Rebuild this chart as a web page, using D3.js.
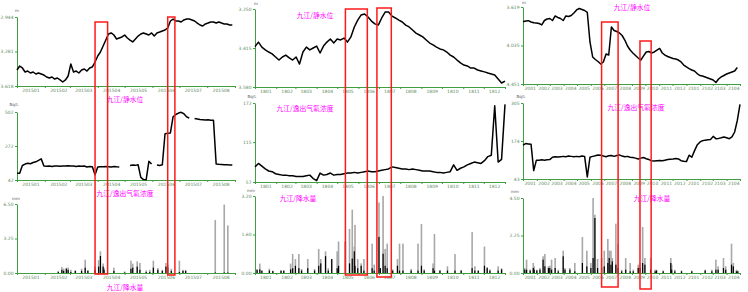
<!DOCTYPE html>
<html>
<head>
<meta charset="utf-8">
<style>
  body { margin: 0; background: #fff; }
  svg { display: block; font-family: "DejaVu Sans", sans-serif; }
  .axis path, .axis line { stroke: #3f9f3f; }
  .axis text { fill: #5c8a5c; font-size: 4.5px; font-family: "DejaVu Sans", sans-serif; }
  .title { fill: #ff00ff; font-size: 6.8px; font-family: "Noto Sans CJK SC", sans-serif; }
  .unit { fill: #555; font-size: 4px; }
</style>
</head>
<body>
<script src="https://d3js.org/d3.v7.min.js"></script>
<script>
// ---- tick labels ----
const months1 = ['201501','201502','201503','201504','201505','201506','201507','201508'];
const months2 = ['1801','1802','1803','1804','1805','1806','1807','1808','1809','1810','1811','1812'];
const months3 = ['2001','2002','2003','2004','2005','2006','2007','2008','2009','2010','2011','2012','2101','2102','2103','2104'];

const level1Ticks = ['2.944','3.281','3.618'];
const radon1Ticks = ['502','272','42'];
const rain1Ticks  = ['6.50','3.25','0.00'];
const level2Ticks = ['3.250','3.415','3.580'];
const radon2Ticks = ['172','115','57'];
const rain2Ticks  = ['3.20','1.60','0.00'];
const level3Ticks = ['3.619','4.035','4.451'];
const radon3Ticks = ['305','174','43'];
const rain3Ticks  = ['4.50','2.25','0.00'];

const titles = ['九江/静水位', '九江/逸出气氡浓度', '九江/降水量'];

// ---- 2015: every 3 days from 2015-01-01 ----
const level1 = [3.462,3.423,3.442,3.481,3.472,3.491,3.481,3.501,3.491,3.501,
  3.511,3.530,3.540,3.530,3.550,3.540,3.559,3.579,3.559,3.520,
  3.403,3.481,3.472,3.491,3.462,3.452,3.472,3.442,3.432,3.384,
  3.325,3.286,3.227,3.169,3.110,3.100,3.120,3.159,3.149,3.139,
  3.120,3.149,3.169,3.188,3.159,3.130,3.110,3.100,3.110,3.120,
  3.100,3.130,3.100,3.091,3.081,3.071,3.051,2.983,2.964,2.983,
  2.983,2.993,2.973,2.964,2.964,2.973,2.983,3.003,3.022,3.032,
  3.012,3.003,2.993,2.993,3.003,2.993,3.003,3.012,3.012,3.022,
  3.022];
const radon1 = [87,88,140,150,155,152,160,165,175,185,
  137,135,136,134,137,136,135,137,136,138,
  136,137,134,136,135,137,130,134,132,78,
  130,132,131,133,132,130,133,131,130,null,
  null,null,140,143,141,145,60,45,44,168,
  150,null,143,140,145,355,358,360,470,485,
  495,500,490,470,460,null,458,455,452,450,
  448,450,446,447,150,148,147,145,146,144,
  143];
const rain1Days  = [46,50,52,55,57,60,65,72,76,79,87,91,93,96,97,108,120,127,129,134,
  137,144,148,152,157,162,166,168,172,181,185,188,221,231,235];
const rain1Total = [0.2,0.55,0.4,0.5,0.5,0.3,0.25,0.4,1.25,0.3,0.6,1.2,2.05,0.9,0.5,0.5,0.15,1.16,0.88,1.1,
  0.95,0.25,0.3,1.16,0.47,0.3,0.94,0.8,0.4,1.16,0.3,0.3,5.0,6.45,4.48];
const rain1Black = [0.1,0.3,0.2,0.4,0.3,0.1,0.2,0.2,0.5,0.2,0.3,0.6,1.6,0.6,0.3,0.2,0.05,0.4,0.5,0.6,
  0.3,0.1,0.1,0.5,0.3,0.2,0.6,0.5,0.2,0.1,0.2,0.2,0.05,0.05,0.05];

// ---- 2018: every 5 days from 2018-01-01 ----
const level2 = [3.409,3.390,3.411,3.423,3.432,3.440,3.453,3.466,3.453,3.445,
  3.457,3.466,3.453,3.483,3.432,3.411,3.423,3.415,3.407,3.436,
  3.407,3.390,3.377,3.394,3.377,3.381,3.373,3.390,3.368,3.326,
  3.297,3.275,3.271,3.284,3.301,3.313,3.318,3.288,3.263,3.263,
  3.280,3.288,3.297,3.305,3.318,3.326,3.339,3.352,3.360,3.368,
  3.381,3.394,3.402,3.411,3.419,3.423,3.432,3.445,3.453,3.466,
  3.478,3.487,3.491,3.500,3.500,3.508,3.512,3.516,3.521,3.525,
  3.529,3.546,3.563,3.555];
const radon2 = [79,84,80,76,73,72,69,68,67,67,
  66,66,65,65,65,66,67,62,59,70,
  67,68,70,67,68,68,69,70,70,71,
  70,71,72,73,72,72,73,74,75,76,
  79,78,77,76,76,75,76,75,74,73,
  73,73,72,71,71,70,71,72,82,74,
  77,79,82,84,86,85,84,88,94,96,
  168,86,90,170];
const rain2Days  = [3,7,10,21,26,38,42,52,55,59,64,68,77,87,93,96,103,107,112,120,
  122,132,138,142,145,146,150,155,159,171,174,181,183,187,190,193,201,208,211,216,
  228,238,243,247,260,262,270,281,292,301,317,321,326,335,339,343,355,360];
const rain2Total = [0.14,0.39,0.1,0.18,0.1,0.1,0.1,0.39,0.79,0.58,0.79,0.17,0.58,0.17,1.0,0.58,0.9,0.2,0.58,0.9,
  1.31,1.31,1.83,2.63,1.1,2.0,0.58,0.4,0.58,1.22,0.35,2.93,0.2,3.2,1.0,1.22,0.15,0.58,1.22,1.22,
  0.17,1.22,2.04,0.15,0.4,1.62,0.12,0.28,0.79,0.12,1.7,0.28,0.1,1.1,0.25,0.15,0.28,0.2];
const rain2Black = [0.14,0.15,0.1,0.1,0.08,0.1,0.1,0.15,0.2,0.3,0.2,0.1,0.2,0.1,0.3,0.4,0.7,0.1,0.58,0.2,
  0.3,1.31,0.4,0.6,0.9,0.3,0.2,0.3,0.1,0.2,0.1,1.5,0.2,0.8,0.3,0.2,0.1,0.3,0.1,0.1,
  0.1,0.1,0.3,0.1,0.2,0.1,0.1,0.1,0.1,0.1,0.2,0.1,0.1,0.3,0.2,0.1,0.1,0.15];

// ---- 2020-2021: every 6 days from 2020-01-01 ----
const level3 = [3.778,3.770,3.767,3.781,3.789,3.792,3.797,3.813,3.765,3.749,
  3.743,3.765,3.716,3.732,3.743,3.765,3.716,3.722,3.711,3.684,
  3.651,3.635,3.646,3.657,3.678,3.997,4.159,4.186,4.208,4.235,
  4.213,4.127,4.138,3.835,3.873,3.884,3.900,3.927,3.976,4.040,
  4.084,4.116,4.143,4.170,4.192,4.148,4.105,4.100,4.116,4.105,
  4.084,4.067,4.116,4.138,4.154,4.165,4.175,4.181,4.192,4.213,
  4.246,4.267,4.284,4.300,4.311,4.338,4.359,4.365,4.375,4.386,
  4.397,4.408,4.435,4.397,4.375,4.359,4.343,4.332,4.321,4.311,
  4.273];
const radon3 = [160,165,164,163,72,108,108,109,108,109,
  110,118,120,119,120,121,120,122,121,120,
  121,120,122,121,50,118,121,123,126,125,
  122,120,123,124,121,124,126,122,120,121,
  118,117,115,112,115,117,113,110,106,105,
  106,107,106,108,110,111,112,114,112,106,
  104,103,125,118,140,160,170,175,177,178,
  179,190,182,183,185,188,185,182,188,205,
  245,300];
const rain3Days  = [4,8,16,23,25,31,38,45,49,57,60,64,72,79,90,94,105,116,133,143,
  152,157,161,167,176,182,190,193,197,200,208,213,221,230,240,247,258,262,268,273,
  286,296,299,314,331,333,340,355,378,408,423,432,437,449,454,467,471,478,481];
const rain3Total = [0.3,0.8,0.2,0.6,0.4,0.2,0.3,1.0,1.14,0.4,0.44,0.8,0.9,0.2,1.34,0.3,0.3,0.6,2.16,1.34,
  0.6,4.5,3.5,0.84,0.9,1.34,2.04,1.34,1.34,0.9,2.96,1.74,0.2,0.9,0.6,0.2,0.5,0.6,2.76,0.9,
  0.9,0.2,0.2,0.15,0.9,0.5,0.2,0.15,0.15,0.2,0.2,0.8,0.4,0.9,0.4,1.76,0.6,0.2,0.15];
const rain3Black = [0.2,0.2,0.15,0.3,0.2,0.15,0.2,0.8,0.4,0.3,0.3,0.2,0.3,0.1,1.0,0.2,0.2,0.1,0.6,0.4,
  0.3,0.9,3.3,0.3,0.3,0.4,0.6,0.9,0.5,0.7,0.5,0.3,0.1,0.2,0.1,0.1,0.3,0.3,0.6,0.5,
  0.2,0.1,0.15,0.1,0.6,0.2,0.1,0.1,0.1,0.15,0.1,0.2,0.2,0.3,0.2,0.5,0.4,0.1,0.1];

// highlighted periods (red boxes)
const boxes1 = [['2015-03-29','2015-04-12'], ['2015-06-18','2015-06-26']];
const boxes2 = [['2018-05-13','2018-06-14'], ['2018-06-28','2018-07-19']];
const boxes3 = [['2020-06-25','2020-08-01'], ['2020-09-19','2020-10-14']];

const utc = (y, m, d) => new Date(Date.UTC(y, m, d));

const panels = [
  { start: utc(2015,0,1), end: utc(2015,8,1), x0: 17, x1: 235, labels: months1,
    rows: [[17,86],[112,180],[204,273]],
    ticks: [level1Ticks, radon1Ticks, rain1Ticks],
    lines: [level1, radon1], steps: [3, 3],
    rain: [rain1Days, rain1Total, rain1Black],
    titlePos: [[125,102],[125,195.5],[125,289.5]],
    unitPos: [[17,12],[14,106],[16,200]],
    boxes: boxes1, boxY: [[22,274],[17,275]] },
  { start: utc(2018,0,1), end: utc(2019,0,1), x0: 255, x1: 505, labels: months2,
    rows: [[9,87],[103,182],[196,273]],
    ticks: [level2Ticks, radon2Ticks, rain2Ticks],
    lines: [level2, radon2], steps: [5, 5],
    rain: [rain2Days, rain2Total, rain2Black],
    titlePos: [[315,17.5],[305,110.5],[298,200.5]],
    unitPos: [[256,5],[252,98],[251,192]],
    boxes: boxes2, boxY: [[9,275],[8,277]] },
  { start: utc(2020,0,1), end: utc(2021,4,1), x0: 523, x1: 740, labels: months3,
    rows: [[7,84],[103,179],[198,273]],
    ticks: [level3Ticks, radon3Ticks, rain3Ticks],
    lines: [level3, radon3], steps: [6, 6],
    rain: [rain3Days, rain3Total, rain3Black],
    titlePos: [[632,9.5],[636,109.5],[652,200.5]],
    unitPos: [[524,4],[521,98],[515,193]],
    boxes: boxes3, boxY: [[22,287],[41,289]] }
];
const units = ['m', 'Bq/L', 'mm'];

const svg = d3.select('body').append('svg')
  .attr('width', 748)
  .attr('height', 292);

panels.forEach(p => {
  const x = d3.scaleUtc().domain([p.start, p.end]).range([p.x0, p.x1]);
  const monthStarts = d3.utcMonth.range(p.start, p.end).concat([p.end]);
  const monthMids = d3.utcMonth.range(p.start, p.end).map(d => d3.utcDay.offset(d, 15));

  p.rows.forEach(([top, bottom], r) => {
    const t = p.ticks[r];
    const y = d3.scaleLinear().domain([+t[2], +t[0]]).range([bottom, top]);

    // x axis: month ticks + centred labels
    svg.append('g')
      .attr('class', 'axis')
      .attr('transform', `translate(0,${bottom})`)
      .call(d3.axisBottom(x).tickValues(monthStarts).tickFormat('').tickSize(2).tickSizeOuter(0));
    svg.append('g')
      .attr('class', 'axis')
      .attr('transform', `translate(0,${bottom})`)
      .call(d3.axisBottom(x).tickValues(monthMids).tickFormat((d, i) => p.labels[i]).tickSize(0).tickPadding(3))
      .call(g => g.select('.domain').remove());

    svg.append('g')
      .attr('class', 'axis')
      .attr('transform', `translate(${p.x0},0)`)
      .call(d3.axisLeft(y).tickValues(t.map(Number)).tickFormat((d, i) => t[i])
        .tickSize(2).tickSizeOuter(0).tickPadding(1.5));

    if (r < 2) {
      const step = p.steps[r];
      const line = d3.line()
        .defined(d => d != null)
        .x((d, i) => x(d3.utcDay.offset(p.start, i * step)))
        .y(d => y(d));
      svg.append('path')
        .datum(p.lines[r])
        .attr('fill', 'none')
        .attr('stroke', '#000')
        .attr('stroke-width', 1.5)
        .attr('stroke-linejoin', 'round')
        .attr('d', line);
    } else {
      const [days, total, black] = p.rain;
      const bars = days.map((d, i) => ({ date: d3.utcDay.offset(p.start, d), total: total[i], black: black[i] }));
      svg.append('g').selectAll('rect')
        .data(bars)
        .join('rect')
        .attr('x', d => x(d.date) - 0.8)
        .attr('y', d => y(d.total))
        .attr('width', 1.6)
        .attr('height', d => y(0) - y(d.total))
        .attr('fill', '#a8a8a8');
      svg.append('g').selectAll('rect')
        .data(bars)
        .join('rect')
        .attr('x', d => x(d.date) - 0.6)
        .attr('y', d => y(d.black))
        .attr('width', 1.2)
        .attr('height', d => y(0) - y(d.black))
        .attr('fill', '#000');
    }

    svg.append('text')
      .attr('class', 'title')
      .attr('x', p.titlePos[r][0])
      .attr('y', p.titlePos[r][1])
      .attr('text-anchor', 'middle')
      .text(titles[r]);

    svg.append('text')
      .attr('class', 'unit')
      .attr('x', p.unitPos[r][0])
      .attr('y', p.unitPos[r][1])
      .attr('text-anchor', 'middle')
      .text(units[r]);
  });

  // red boxes over the highlighted periods
  p.boxes.forEach(([a, b], i) => {
    const x0 = x(new Date(a)), x1 = x(new Date(b));
    svg.append('rect')
      .attr('x', x0)
      .attr('y', p.boxY[i][0])
      .attr('width', x1 - x0)
      .attr('height', p.boxY[i][1] - p.boxY[i][0])
      .attr('fill', 'none')
      .attr('stroke', '#ff1a1a')
      .attr('stroke-width', 1.5);
  });
});
</script>
</body>
</html>
